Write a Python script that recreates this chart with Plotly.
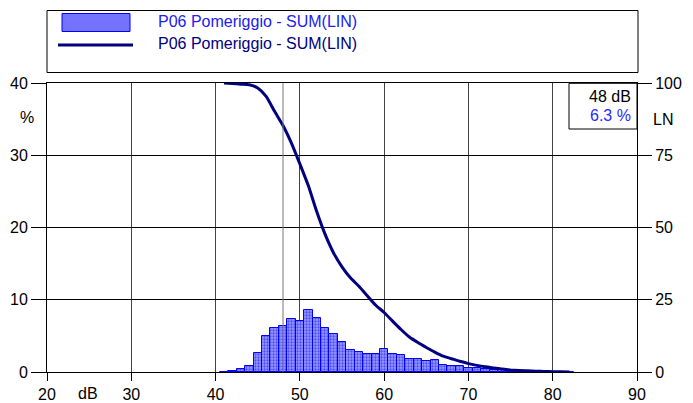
import plotly.graph_objects as go

# Data
level_db = list(range(41, 83))
pct_time = [0.05, 0.1, 0.4, 0.8, 2.6, 5.0, 6.1, 6.3, 7.3, 7.1,
            8.6, 7.5, 6.1, 5.2, 4.1, 3.1, 2.8, 2.5, 2.5, 3.2,
            2.5, 2.4, 1.8, 1.8, 1.5, 1.7, 1.0, 0.8, 0.9, 0.5,
            0.6, 0.4, 0.3, 0.3, 0.2, 0.15, 0.1, 0.1, 0.05, 0.03,
            0.02, 0.01]
ln_curve = [100, 99.8, 99.6, 99.4, 98.3, 95.4, 90.2, 85.3, 79.2, 72.0,
            64.5, 55.5, 47.6, 41.2, 36.4, 32.6, 29.7, 26.4, 23.1, 20.6,
            17.6, 14.7, 12.1, 10.2, 8.5, 6.9, 5.5, 4.6, 3.7, 2.9,
            2.3, 1.8, 1.4, 1.0, 0.7, 0.5, 0.4, 0.3, 0.2, 0.1,
            0.05, 0.0]
series_name = "P06 Pomeriggio - SUM(LIN)"
cursor_db = 48
cursor_text = ["48 dB", "6.3 %"]

FONT = "Liberation Sans, Arial, sans-serif"
L, R, T, B = 47, 56, 83, 31
W, H = 693, 403
PW, PH = W - L - R, H - T - B


def px(x):
    return (x - L) / PW


def py(y):
    return (H - B - y) / PH


fig = go.Figure()

# Histogram bars (% of time)
fig.add_trace(go.Bar(
    x=level_db, y=pct_time, width=1, name=series_name,
    marker=dict(color="#8080ff", line=dict(color="#0000ff", width=1),
                pattern=dict(shape=".", fgcolor="#0000ff", bgcolor="#9a9aff",
                             size=3, solidity=0.45)),
    yaxis="y", showlegend=False,
))

# Cumulative LN curve
fig.add_trace(go.Scatter(
    x=level_db, y=ln_curve, mode="lines", name=series_name,
    line=dict(color="#000080", width=3, shape="spline", smoothing=0.6),
    yaxis="y2", showlegend=False,
))

fig.update_layout(
    width=W, height=H,
    margin=dict(l=L, r=R, t=T, b=B),
    paper_bgcolor="white", plot_bgcolor="white",
    font=dict(family=FONT, size=16, color="black"),
    bargap=0,
    xaxis=dict(range=[20, 90], dtick=10, tick0=20, showgrid=True,
               gridcolor="#444444", gridwidth=1, zeroline=False,
               showline=True, linecolor="black", linewidth=1, mirror=True,
               ticks="outside", ticklen=8, tickcolor="black",
               automargin=False),
    yaxis=dict(range=[0, 40], dtick=10, showgrid=True, gridcolor="black",
               gridwidth=1, zeroline=False, showline=True, linecolor="black",
               ticks="outside", ticklen=15, tickcolor="black",
               automargin=False),
    yaxis2=dict(range=[0, 100], dtick=25, overlaying="y", side="right",
                showgrid=False, zeroline=False, showline=True,
                linecolor="black", ticks="outside", ticklen=14,
                tickcolor="black", automargin=False),
)

shapes = [
    # cursor line
    dict(type="line", xref="x", yref="paper", x0=cursor_db, x1=cursor_db,
         y0=0, y1=1, line=dict(color="#777777", width=1)),
    # legend box
    dict(type="rect", xref="paper", yref="paper", x0=px(47), x1=px(638),
         y0=py(72.5), y1=py(10.5), line=dict(color="black", width=1),
         fillcolor="white"),
    dict(type="rect", xref="paper", yref="paper", x0=px(62), x1=px(130),
         y0=py(31.5), y1=py(13.5), line=dict(color="#0000ff", width=1),
         fillcolor="#7373ff"),
    dict(type="line", xref="paper", yref="paper", x0=px(58), x1=px(133),
         y0=py(45), y1=py(45), line=dict(color="#000080", width=3)),
    # cursor readout box
    dict(type="rect", xref="paper", yref="paper", x0=px(569), x1=px(637),
         y0=py(129), y1=py(83.3), line=dict(color="black", width=1),
         fillcolor="white"),
]
fig.update_layout(shapes=shapes)

ann = [
    (157, 21, series_name, "#2020f0", "left"),
    (157, 44, series_name, "#000080", "left"),
    (27, 117, "%", "black", "center"),
    (663, 119, "LN", "black", "center"),
    (88, 393, "dB", "black", "center"),
    (632, 97, cursor_text[0], "black", "right"),
    (632, 115, cursor_text[1], "#2a2aff", "right"),
]
for x, y, text, color, anchor in ann:
    fig.add_annotation(x=px(x), y=py(y), xref="paper", yref="paper",
                       text=text, showarrow=False, xanchor=anchor,
                       yanchor="middle", borderpad=0,
                       font=dict(color=color, size=16))

# remove the page margin so the figure sits at the window origin
fig.write_html("out.html", config={"displayModeBar": False},
               post_script="document.body.style.margin='0';"
                           "document.body.style.overflow='hidden';")
